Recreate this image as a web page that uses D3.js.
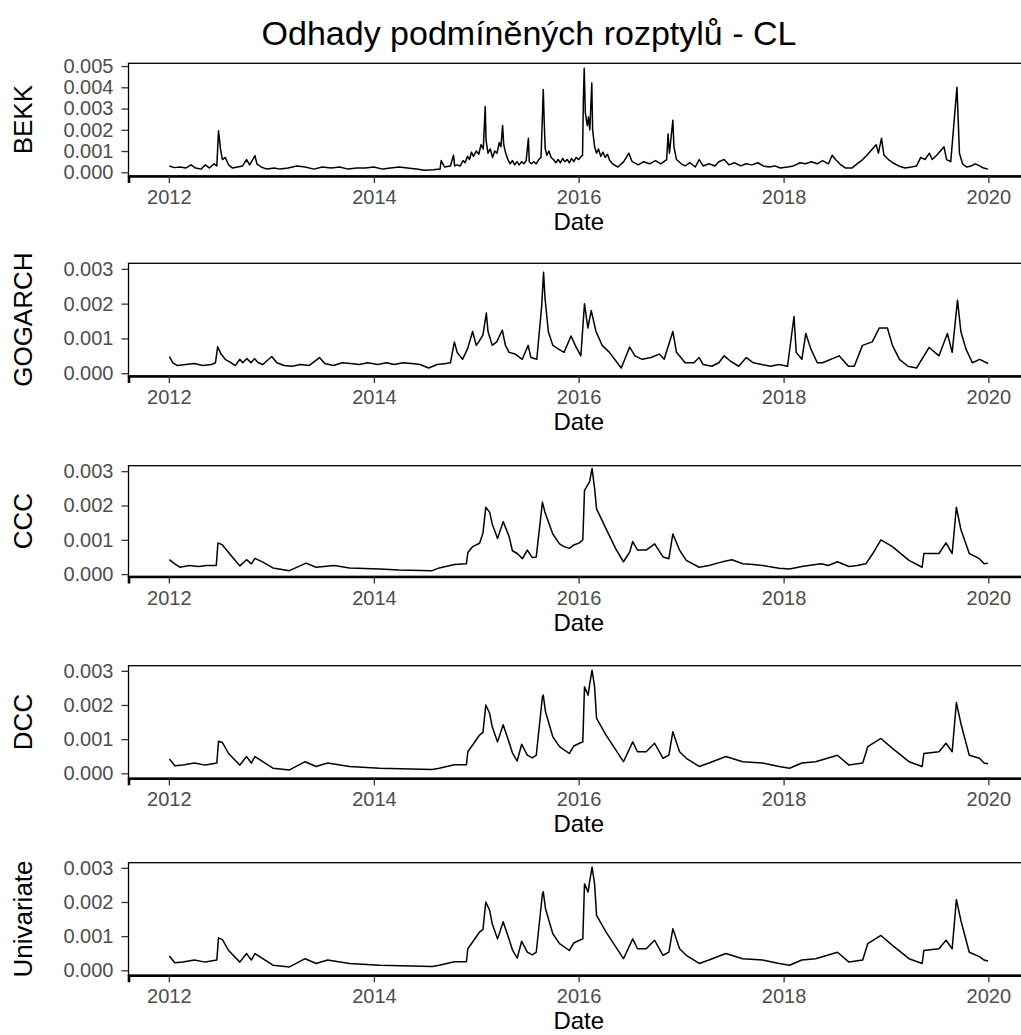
<!DOCTYPE html>
<html>
<head>
<meta charset="utf-8">
<script src="https://cdn.jsdelivr.net/npm/d3@7"></script>
<style>
  body { margin: 0; background: #fff; }
  text { font-family: "Liberation Sans", Arial, sans-serif; }
</style>
</head>
<body>
<svg id="chart" width="1021" height="1035"></svg>
<script>
// conditional variance estimates
const bekk = [
  ["2012-01-03",0.00030],["2012-01-20",0.00022],["2012-02-10",0.00025],["2012-03-01",0.00020],
  ["2012-03-20",0.00035],["2012-04-05",0.00020],["2012-04-25",0.00015],["2012-05-10",0.00035],
  ["2012-05-25",0.00020],["2012-06-10",0.00040],["2012-06-20",0.00030],["2012-06-26",0.00195],
  ["2012-06-29",0.00160],["2012-07-03",0.00110],["2012-07-10",0.00060],["2012-07-20",0.00070],
  ["2012-08-01",0.00035],["2012-08-15",0.00020],["2012-09-01",0.00025],["2012-09-20",0.00030],
  ["2012-10-04",0.00060],["2012-10-15",0.00035],["2012-11-03",0.00078],["2012-11-10",0.00040],
  ["2012-11-25",0.00025],["2012-12-15",0.00015],["2013-01-10",0.00020],["2013-02-01",0.00015],
  ["2013-03-01",0.00020],["2013-04-01",0.00030],["2013-05-01",0.00025],["2013-06-01",0.00015],
  ["2013-07-01",0.00025],["2013-08-01",0.00020],["2013-09-01",0.00025],["2013-10-01",0.00015],
  ["2013-11-01",0.00020],["2013-12-01",0.00020],["2014-01-01",0.00025],["2014-02-01",0.00015],
  ["2014-03-01",0.00020],["2014-04-01",0.00025],["2014-05-01",0.00020],["2014-06-01",0.00015],
  ["2014-07-01",0.00010],["2014-08-01",0.00012],["2014-08-25",0.00015],["2014-08-29",0.00055],
  ["2014-09-10",0.00025],["2014-10-01",0.00030],["2014-10-12",0.00080],["2014-10-16",0.00030],
  ["2014-10-25",0.00035],["2014-11-05",0.00030],["2014-11-15",0.00055],["2014-11-22",0.00045],
  ["2014-12-01",0.00075],["2014-12-08",0.00060],["2014-12-15",0.00095],["2014-12-22",0.00075],
  ["2015-01-01",0.00100],["2015-01-10",0.00085],["2015-01-18",0.00130],["2015-01-26",0.00110],
  ["2015-02-02",0.00310],["2015-02-05",0.00150],["2015-02-12",0.00090],["2015-02-20",0.00110],
  ["2015-02-28",0.00070],["2015-03-08",0.00100],["2015-03-16",0.00090],["2015-03-24",0.00140],
  ["2015-03-30",0.00120],["2015-04-05",0.00220],["2015-04-09",0.00130],["2015-04-16",0.00090],
  ["2015-04-24",0.00060],["2015-05-02",0.00040],["2015-05-10",0.00055],["2015-05-18",0.00035],
  ["2015-05-26",0.00050],["2015-06-03",0.00035],["2015-06-12",0.00050],["2015-06-20",0.00040],
  ["2015-06-28",0.00055],["2015-07-06",0.00160],["2015-07-09",0.00050],["2015-07-17",0.00040],
  ["2015-07-25",0.00050],["2015-08-03",0.00040],["2015-08-12",0.00060],["2015-08-20",0.00070],
  ["2015-08-28",0.00390],["2015-08-31",0.00250],["2015-09-04",0.00110],["2015-09-10",0.00080],
  ["2015-09-17",0.00100],["2015-09-25",0.00070],["2015-10-03",0.00060],["2015-10-12",0.00045],
  ["2015-10-20",0.00060],["2015-10-28",0.00045],["2015-11-05",0.00065],["2015-11-13",0.00050],
  ["2015-11-21",0.00060],["2015-11-29",0.00045],["2015-12-07",0.00065],["2015-12-15",0.00050],
  ["2015-12-23",0.00070],["2016-01-01",0.00060],["2016-01-10",0.00075],["2016-01-15",0.00080],
  ["2016-01-18",0.00340],["2016-01-21",0.00490],["2016-01-25",0.00280],["2016-02-01",0.00220],
  ["2016-02-05",0.00260],["2016-02-10",0.00200],["2016-02-17",0.00420],["2016-02-20",0.00200],
  ["2016-02-27",0.00120],["2016-03-05",0.00090],["2016-03-12",0.00110],["2016-03-20",0.00075],
  ["2016-03-28",0.00095],["2016-04-05",0.00070],["2016-04-13",0.00085],["2016-04-21",0.00055],
  ["2016-05-01",0.00040],["2016-05-20",0.00025],["2016-06-10",0.00050],["2016-06-28",0.00090],
  ["2016-07-10",0.00050],["2016-08-01",0.00035],["2016-08-20",0.00050],["2016-09-10",0.00040],
  ["2016-10-01",0.00055],["2016-10-20",0.00040],["2016-11-10",0.00060],["2016-11-15",0.00180],
  ["2016-11-20",0.00090],["2016-12-02",0.00245],["2016-12-06",0.00120],["2016-12-15",0.00060],
  ["2017-01-01",0.00040],["2017-01-15",0.00030],["2017-02-01",0.00045],["2017-02-20",0.00025],
  ["2017-03-06",0.00060],["2017-03-20",0.00030],["2017-04-10",0.00040],["2017-05-01",0.00030],
  ["2017-05-15",0.00050],["2017-06-03",0.00060],["2017-06-20",0.00035],["2017-07-10",0.00045],
  ["2017-08-01",0.00030],["2017-08-20",0.00040],["2017-09-10",0.00035],["2017-10-01",0.00045],
  ["2017-10-20",0.00030],["2017-11-10",0.00025],["2017-12-01",0.00030],["2017-12-20",0.00020],
  ["2018-01-15",0.00025],["2018-02-05",0.00030],["2018-03-01",0.00045],["2018-03-20",0.00040],
  ["2018-04-10",0.00050],["2018-05-01",0.00040],["2018-05-20",0.00055],["2018-06-10",0.00040],
  ["2018-06-23",0.00080],["2018-07-05",0.00060],["2018-07-20",0.00040],["2018-08-10",0.00020],
  ["2018-09-01",0.00020],["2018-09-20",0.00040],["2018-10-10",0.00060],["2018-10-25",0.00080],
  ["2018-11-27",0.00130],["2018-12-05",0.00090],["2018-12-16",0.00160],["2018-12-25",0.00080],
  ["2019-01-10",0.00060],["2019-01-25",0.00045],["2019-02-15",0.00030],["2019-03-10",0.00020],
  ["2019-04-01",0.00025],["2019-04-20",0.00030],["2019-05-05",0.00070],["2019-05-20",0.00060],
  ["2019-06-05",0.00090],["2019-06-15",0.00060],["2019-07-01",0.00080],["2019-07-27",0.00120],
  ["2019-08-05",0.00060],["2019-08-20",0.00050],["2019-09-11",0.00400],["2019-09-14",0.00300],
  ["2019-09-20",0.00090],["2019-10-01",0.00040],["2019-10-15",0.00025],["2019-11-01",0.00030],
  ["2019-11-15",0.00040],["2019-12-01",0.00030],["2019-12-15",0.00020],["2019-12-31",0.00015]
];

const gogarch = [
  ["2012-01-03",0.00048],["2012-01-15",0.00030],["2012-02-01",0.00022],["2012-03-01",0.00025],
  ["2012-04-01",0.00028],["2012-05-01",0.00022],["2012-06-01",0.00025],["2012-06-15",0.00030],
  ["2012-06-23",0.00076],["2012-07-05",0.00055],["2012-07-20",0.00040],["2012-08-10",0.00030],
  ["2012-08-25",0.00022],["2012-09-10",0.00040],["2012-09-20",0.00030],["2012-10-05",0.00042],
  ["2012-10-20",0.00030],["2012-11-01",0.00042],["2012-11-15",0.00030],["2012-12-01",0.00025],
  ["2013-01-02",0.00048],["2013-01-20",0.00030],["2013-02-15",0.00022],["2013-03-15",0.00020],
  ["2013-04-15",0.00025],["2013-05-15",0.00022],["2013-06-21",0.00045],["2013-07-10",0.00028],
  ["2013-08-10",0.00022],["2013-09-10",0.00030],["2013-10-10",0.00028],["2013-11-10",0.00025],
  ["2013-12-10",0.00030],["2014-01-15",0.00025],["2014-02-15",0.00030],["2014-03-15",0.00025],
  ["2014-04-15",0.00030],["2014-05-15",0.00028],["2014-06-15",0.00025],["2014-07-15",0.00015],
  ["2014-08-15",0.00025],["2014-09-15",0.00028],["2014-10-01",0.00030],["2014-10-15",0.00090],
  ["2014-10-25",0.00060],["2014-11-13",0.00040],["2014-12-01",0.00070],["2014-12-19",0.00120],
  ["2015-01-01",0.00080],["2015-01-10",0.00090],["2015-01-25",0.00110],["2015-02-06",0.00173],
  ["2015-02-12",0.00120],["2015-02-27",0.00080],["2015-03-15",0.00090],["2015-04-04",0.00124],
  ["2015-04-15",0.00080],["2015-04-28",0.00060],["2015-05-20",0.00055],["2015-06-14",0.00040],
  ["2015-07-05",0.00080],["2015-07-15",0.00045],["2015-08-05",0.00040],["2015-08-22",0.00190],
  ["2015-08-29",0.00290],["2015-09-03",0.00218],["2015-09-15",0.00120],["2015-10-01",0.00080],
  ["2015-10-20",0.00070],["2015-11-10",0.00060],["2015-12-05",0.00107],["2015-12-20",0.00080],
  ["2016-01-09",0.00050],["2016-01-22",0.00200],["2016-02-03",0.00130],["2016-02-15",0.00180],
  ["2016-03-03",0.00120],["2016-03-25",0.00080],["2016-04-20",0.00060],["2016-06-01",0.00015],
  ["2016-07-01",0.00075],["2016-07-20",0.00050],["2016-08-15",0.00040],["2016-09-15",0.00045],
  ["2016-10-15",0.00055],["2016-11-01",0.00040],["2016-12-02",0.00120],["2016-12-15",0.00060],
  ["2017-01-15",0.00030],["2017-02-15",0.00030],["2017-03-06",0.00045],["2017-03-20",0.00025],
  ["2017-04-20",0.00020],["2017-05-15",0.00030],["2017-06-03",0.00050],["2017-06-25",0.00035],
  ["2017-07-25",0.00020],["2017-08-21",0.00045],["2017-09-15",0.00030],["2017-10-15",0.00025],
  ["2017-11-15",0.00020],["2017-12-15",0.00025],["2018-01-15",0.00020],["2018-02-07",0.00163],
  ["2018-02-15",0.00060],["2018-03-07",0.00040],["2018-03-21",0.00114],["2018-04-08",0.00070],
  ["2018-05-01",0.00030],["2018-05-20",0.00030],["2018-07-18",0.00050],["2018-08-20",0.00020],
  ["2018-09-10",0.00020],["2018-10-09",0.00080],["2018-11-13",0.00090],["2018-12-08",0.00130],
  ["2019-01-06",0.00130],["2019-01-24",0.00080],["2019-02-18",0.00040],["2019-03-20",0.00020],
  ["2019-04-20",0.00015],["2019-06-04",0.00074],["2019-07-09",0.00050],["2019-08-08",0.00114],
  ["2019-08-25",0.00060],["2019-09-13",0.00210],["2019-09-25",0.00120],["2019-10-13",0.00070],
  ["2019-11-05",0.00030],["2019-12-01",0.00040],["2019-12-31",0.00028]
];

const ccc = [
  ["2012-01-03",0.00042],["2012-01-22",0.00030],["2012-02-09",0.00020],["2012-03-15",0.00025],
  ["2012-04-15",0.00022],["2012-05-15",0.00025],["2012-06-18",0.00025],["2012-06-24",0.00091],
  ["2012-07-10",0.00085],["2012-08-15",0.00049],["2012-09-10",0.00024],["2012-10-04",0.00042],
  ["2012-10-21",0.00030],["2012-11-03",0.00046],["2012-12-01",0.00035],["2013-01-06",0.00018],
  ["2013-03-06",0.00010],["2013-05-04",0.00032],["2013-06-09",0.00020],["2013-08-13",0.00025],
  ["2013-10-06",0.00018],["2014-01-22",0.00015],["2014-04-01",0.00012],["2014-07-28",0.00010],
  ["2014-08-22",0.00018],["2014-10-15",0.00028],["2014-11-27",0.00030],["2014-12-02",0.00063],
  ["2014-12-19",0.00080],["2015-01-13",0.00090],["2015-01-25",0.00120],["2015-02-04",0.00195],
  ["2015-02-18",0.00180],["2015-02-27",0.00146],["2015-03-18",0.00104],["2015-04-07",0.00153],
  ["2015-04-28",0.00110],["2015-05-10",0.00068],["2015-05-27",0.00060],["2015-06-15",0.00045],
  ["2015-07-02",0.00070],["2015-07-20",0.00048],["2015-08-03",0.00050],["2015-08-25",0.00210],
  ["2015-09-03",0.00180],["2015-10-01",0.00117],["2015-10-25",0.00088],["2015-11-10",0.00080],
  ["2015-11-29",0.00075],["2015-12-15",0.00085],["2016-01-04",0.00091],["2016-01-16",0.00100],
  ["2016-01-22",0.00244],["2016-02-09",0.00269],["2016-02-18",0.00308],["2016-02-27",0.00250],
  ["2016-03-05",0.00190],["2016-04-08",0.00132],["2016-05-13",0.00073],["2016-06-09",0.00036],
  ["2016-07-01",0.00064],["2016-07-12",0.00095],["2016-07-29",0.00070],["2016-08-29",0.00070],
  ["2016-09-28",0.00088],["2016-10-28",0.00050],["2016-11-18",0.00045],["2016-12-02",0.00117],
  ["2016-12-26",0.00070],["2017-01-19",0.00040],["2017-03-06",0.00020],["2017-04-10",0.00025],
  ["2017-05-10",0.00032],["2017-06-09",0.00038],["2017-07-01",0.00042],["2017-08-08",0.00030],
  ["2017-09-15",0.00028],["2017-10-18",0.00025],["2017-12-16",0.00017],["2018-01-22",0.00015],
  ["2018-03-07",0.00022],["2018-04-25",0.00028],["2018-05-15",0.00030],["2018-06-09",0.00025],
  ["2018-07-12",0.00036],["2018-08-22",0.00022],["2018-09-20",0.00025],["2018-10-21",0.00030],
  ["2018-11-15",0.00060],["2018-12-14",0.00100],["2019-01-24",0.00080],["2019-03-24",0.00040],
  ["2019-05-10",0.00020],["2019-05-16",0.00060],["2019-07-09",0.00060],["2019-08-03",0.00091],
  ["2019-08-25",0.00060],["2019-09-09",0.00195],["2019-09-25",0.00130],["2019-10-25",0.00060],
  ["2019-11-30",0.00045],["2019-12-17",0.00030],["2019-12-31",0.00032]
];

const dcc = [
  ["2012-01-03",0.00042],["2012-01-22",0.00022],["2012-02-20",0.00024],["2012-04-01",0.00030],
  ["2012-05-10",0.00024],["2012-06-20",0.00030],["2012-06-26",0.00094],["2012-07-10",0.00090],
  ["2012-08-01",0.00058],["2012-09-10",0.00024],["2012-10-04",0.00049],["2012-10-21",0.00030],
  ["2012-11-03",0.00049],["2012-12-01",0.00034],["2013-01-06",0.00015],["2013-03-06",0.00010],
  ["2013-05-01",0.00034],["2013-06-09",0.00020],["2013-07-20",0.00030],["2013-10-06",0.00020],
  ["2014-01-22",0.00015],["2014-07-28",0.00011],["2014-08-22",0.00015],["2014-10-15",0.00025],
  ["2014-11-27",0.00025],["2014-12-02",0.00063],["2015-01-13",0.00112],["2015-01-25",0.00120],
  ["2015-02-04",0.00200],["2015-02-18",0.00175],["2015-02-27",0.00136],["2015-03-18",0.00092],
  ["2015-04-07",0.00142],["2015-04-28",0.00091],["2015-05-10",0.00060],["2015-05-27",0.00036],
  ["2015-06-12",0.00085],["2015-07-02",0.00053],["2015-07-20",0.00045],["2015-08-03",0.00053],
  ["2015-08-25",0.00224],["2015-08-28",0.00229],["2015-09-05",0.00180],["2015-10-01",0.00107],
  ["2015-10-25",0.00078],["2015-11-29",0.00058],["2015-12-15",0.00080],["2016-01-04",0.00088],
  ["2016-01-16",0.00092],["2016-01-22",0.00253],["2016-02-04",0.00229],["2016-02-09",0.00258],
  ["2016-02-18",0.00302],["2016-02-27",0.00253],["2016-03-05",0.00161],["2016-04-08",0.00112],
  ["2016-05-13",0.00068],["2016-06-09",0.00034],["2016-07-12",0.00092],["2016-07-29",0.00063],
  ["2016-08-29",0.00063],["2016-09-28",0.00088],["2016-10-28",0.00044],["2016-11-18",0.00053],
  ["2016-12-02",0.00122],["2016-12-26",0.00063],["2017-01-19",0.00044],["2017-03-06",0.00020],
  ["2017-04-10",0.00030],["2017-06-09",0.00049],["2017-08-08",0.00034],["2017-10-18",0.00030],
  ["2017-12-16",0.00020],["2018-01-22",0.00015],["2018-03-07",0.00030],["2018-04-25",0.00034],
  ["2018-07-12",0.00053],["2018-08-22",0.00024],["2018-10-10",0.00030],["2018-10-28",0.00078],
  ["2018-12-14",0.00102],["2019-01-24",0.00073],["2019-03-24",0.00034],["2019-05-10",0.00020],
  ["2019-05-16",0.00058],["2019-07-09",0.00063],["2019-08-03",0.00088],["2019-08-25",0.00063],
  ["2019-09-09",0.00207],["2019-09-25",0.00146],["2019-10-25",0.00053],["2019-11-30",0.00044],
  ["2019-12-17",0.00030],["2019-12-31",0.00028]
];

const univariate = [
  ["2012-01-03",0.00042],["2012-01-22",0.00022],["2012-02-20",0.00024],["2012-04-01",0.00030],
  ["2012-05-10",0.00024],["2012-06-20",0.00030],["2012-06-26",0.00095],["2012-07-10",0.00090],
  ["2012-08-01",0.00058],["2012-09-10",0.00024],["2012-10-04",0.00049],["2012-10-21",0.00030],
  ["2012-11-03",0.00049],["2012-12-01",0.00034],["2013-01-06",0.00015],["2013-03-06",0.00010],
  ["2013-05-01",0.00034],["2013-06-09",0.00020],["2013-07-20",0.00030],["2013-10-06",0.00020],
  ["2014-01-22",0.00015],["2014-07-28",0.00011],["2014-08-22",0.00015],["2014-10-15",0.00025],
  ["2014-11-27",0.00025],["2014-12-02",0.00063],["2015-01-13",0.00112],["2015-01-25",0.00120],
  ["2015-02-04",0.00200],["2015-02-18",0.00175],["2015-02-27",0.00136],["2015-03-18",0.00092],
  ["2015-04-07",0.00142],["2015-04-28",0.00091],["2015-05-10",0.00060],["2015-05-27",0.00036],
  ["2015-06-12",0.00085],["2015-07-02",0.00053],["2015-07-20",0.00045],["2015-08-03",0.00053],
  ["2015-08-25",0.00224],["2015-08-28",0.00230],["2015-09-05",0.00180],["2015-10-01",0.00107],
  ["2015-10-25",0.00078],["2015-11-29",0.00058],["2015-12-15",0.00080],["2016-01-04",0.00088],
  ["2016-01-16",0.00092],["2016-01-22",0.00253],["2016-02-04",0.00229],["2016-02-09",0.00258],
  ["2016-02-18",0.00302],["2016-02-27",0.00253],["2016-03-05",0.00161],["2016-04-08",0.00112],
  ["2016-05-13",0.00068],["2016-06-09",0.00034],["2016-07-12",0.00092],["2016-07-29",0.00063],
  ["2016-08-29",0.00063],["2016-09-28",0.00088],["2016-10-28",0.00044],["2016-11-18",0.00053],
  ["2016-12-02",0.00122],["2016-12-26",0.00063],["2017-01-19",0.00044],["2017-03-06",0.00020],
  ["2017-04-10",0.00030],["2017-06-09",0.00049],["2017-08-08",0.00034],["2017-10-18",0.00030],
  ["2017-12-16",0.00020],["2018-01-22",0.00015],["2018-03-07",0.00030],["2018-04-25",0.00034],
  ["2018-07-12",0.00053],["2018-08-22",0.00024],["2018-10-10",0.00030],["2018-10-28",0.00078],
  ["2018-12-14",0.00102],["2019-01-24",0.00073],["2019-03-24",0.00034],["2019-05-10",0.00020],
  ["2019-05-16",0.00058],["2019-07-09",0.00063],["2019-08-03",0.00088],["2019-08-25",0.00063],
  ["2019-09-09",0.00207],["2019-09-25",0.00146],["2019-10-25",0.00053],["2019-11-30",0.00040],
  ["2019-12-17",0.00030],["2019-12-31",0.00027]
];

const seriesNames = ["BEKK", "GOGARCH", "CCC", "DCC", "Univariate"];
const seriesData = [bekk, gogarch, ccc, dcc, univariate];
const bekkTicks = [0, 0.001, 0.002, 0.003, 0.004, 0.005];
const otherTicks = [0, 0.001, 0.002, 0.003];
const yTickSets = [bekkTicks, otherTicks, otherTicks, otherTicks, otherTicks];
const yDomains = [[-0.000174, 0.00513], [-0.00008, 0.00316], [-0.00007, 0.00316],
                  [-0.000146, 0.00315], [-0.000146, 0.00315]];
const xTickYears = ["2012", "2014", "2016", "2018", "2020"];
const titleText = "Odhady podmíněných rozptylů - CL";

// layout
const panelTops = [63.3, 263.3, 465.7, 665.7, 862.7];
const panelBottoms = [176, 376, 576.5, 778.3, 975.3];
const left = 128.5, right = 1029;

const parse = d3.timeParse("%Y-%m-%d");
const svg = d3.select("#chart");

let ext = d3.extent(bekk, d => parse(d[0]));
let pad = (ext[1] - ext[0]) * 0.05;
const x = d3.scaleTime()
    .domain([new Date(+ext[0] - pad), new Date(+ext[1] + pad)])
    .range([left, right]);

svg.append("text")
    .attr("x", 529).attr("y", 45)
    .attr("text-anchor", "middle")
    .attr("font-size", 34)
    .attr("fill", "#000")
    .text(titleText);

seriesData.forEach((data, i) => {
    let top = panelTops[i], bottom = panelBottoms[i];
    let y = d3.scaleLinear().domain(yDomains[i]).range([bottom, top]);
    let g = svg.append("g");

    let line = d3.line()
        .x(d => x(parse(d[0])))
        .y(d => y(d[1]));

    g.append("path")
        .datum(data)
        .attr("d", line)
        .attr("fill", "none")
        .attr("stroke", "#000")
        .attr("stroke-width", 1.5)
        .attr("stroke-linejoin", "round");

    // panel border
    g.append("rect")
        .attr("x", left).attr("y", top)
        .attr("width", right - left).attr("height", bottom - top)
        .attr("fill", "none")
        .attr("stroke", "#000")
        .attr("stroke-width", 1.3);

    // y axis
    let ya = g.append("g")
        .attr("transform", `translate(${left},0)`)
        .call(d3.axisLeft(y).tickValues(yTickSets[i]).tickFormat(d3.format(".3f"))
            .tickSize(7).tickPadding(8));
    ya.select(".domain").remove();
    ya.selectAll(".tick line").attr("stroke", "#333").attr("stroke-width", 1.3);
    ya.selectAll(".tick text").attr("fill", "#4d4d4d").attr("font-size", 20)
        .attr("font-family", "Liberation Sans, Arial, sans-serif");

    // x axis
    let xa = g.append("g")
        .attr("transform", `translate(0,${bottom})`)
        .call(d3.axisBottom(x).tickValues(xTickYears.map(d => parse(d + "-01-01")))
            .tickFormat(d3.timeFormat("%Y")).tickSize(7).tickPadding(7));
    xa.select(".domain").attr("stroke", "#000").attr("stroke-width", 2.6);
    xa.selectAll(".tick line").attr("stroke", "#333").attr("stroke-width", 1.3);
    xa.selectAll(".tick text").attr("fill", "#4d4d4d").attr("font-size", 20)
        .attr("font-family", "Liberation Sans, Arial, sans-serif");

    g.append("text")
        .attr("x", (left + right) / 2).attr("y", bottom + 54)
        .attr("text-anchor", "middle")
        .attr("font-size", 24)
        .text("Date");

    g.append("text")
        .attr("transform", `translate(32,${(top + bottom) / 2}) rotate(-90)`)
        .attr("text-anchor", "middle")
        .attr("font-size", 26)
        .text(seriesNames[i]);
});
</script>
</body>
</html>
